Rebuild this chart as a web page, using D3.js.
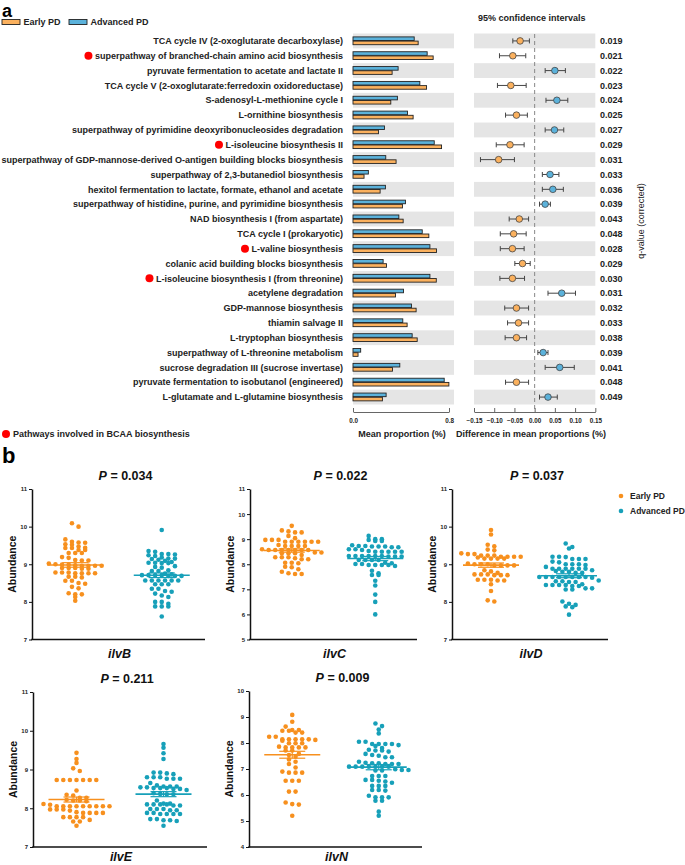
<!DOCTYPE html>
<html>
<head>
<meta charset="utf-8">
<script src="https://cdn.jsdelivr.net/npm/d3@7"></script>
<style>
body { margin: 0; background: #fff; }
svg { font-family: "Liberation Sans", Arial, sans-serif; }
</style>
</head>
<body>
<svg id="chart" width="685" height="865"></svg>
<script>
// ---- panel a data ----
const pathways = [
    "TCA cycle IV (2-oxoglutarate decarboxylase)",
    "superpathway of branched-chain amino acid biosynthesis",
    "pyruvate fermentation to acetate and lactate II",
    "TCA cycle V (2-oxoglutarate:ferredoxin oxidoreductase)",
    "S-adenosyl-L-methionine cycle I",
    "L-ornithine biosynthesis",
    "superpathway of pyrimidine deoxyribonucleosides degradation",
    "L-isoleucine biosynthesis II",
    "superpathway of GDP-mannose-derived O-antigen building blocks biosynthesis",
    "superpathway of 2,3-butanediol biosynthesis",
    "hexitol fermentation to lactate, formate, ethanol and acetate",
    "superpathway of histidine, purine, and pyrimidine biosynthesis",
    "NAD biosynthesis I (from aspartate)",
    "TCA cycle I (prokaryotic)",
    "L-valine biosynthesis",
    "colanic acid building blocks biosynthesis",
    "L-isoleucine biosynthesis I (from threonine)",
    "acetylene degradation",
    "GDP-mannose biosynthesis",
    "thiamin salvage II",
    "L-tryptophan biosynthesis",
    "superpathway of L-threonine metabolism",
    "sucrose degradation III (sucrose invertase)",
    "pyruvate fermentation to isobutanol (engineered)",
    "L-glutamate and L-glutamine biosynthesis"
];
const bcaaRows = [1, 7, 14, 16];
const earlyProp = [0.543, 0.668, 0.326, 0.613, 0.315, 0.501, 0.212, 0.738, 0.359, 0.092, 0.226, 0.412, 0.418,
    0.632, 0.696, 0.279, 0.694, 0.354, 0.526, 0.451, 0.535, 0.042, 0.329, 0.799, 0.245];
const advancedProp = [0.510, 0.618, 0.376, 0.557, 0.370, 0.454, 0.262, 0.677, 0.273, 0.128, 0.270, 0.437, 0.382,
    0.577, 0.641, 0.251, 0.641, 0.421, 0.487, 0.415, 0.493, 0.064, 0.390, 0.760, 0.276];
const diffMean = [-0.036, -0.054, 0.050, -0.059, 0.055, -0.045, 0.049, -0.061, -0.089, 0.038, 0.045, 0.026, -0.038,
    -0.052, -0.055, -0.030, -0.055, 0.067, -0.045, -0.040, -0.045, 0.021, 0.062, -0.045, 0.033];
const diffLow = [-0.054, -0.087, 0.026, -0.092, 0.028, -0.072, 0.026, -0.095, -0.134, 0.019, 0.019, 0.012, -0.063,
    -0.085, -0.085, -0.049, -0.086, 0.033, -0.074, -0.067, -0.073, 0.008, 0.026, -0.072, 0.012];
const diffHigh = [-0.013, -0.022, 0.076, -0.021, 0.082, -0.018, 0.072, -0.026, -0.050, 0.060, 0.071, 0.039, -0.015,
    -0.021, -0.026, -0.011, -0.025, 0.101, -0.015, -0.015, -0.020, 0.033, 0.098, -0.015, 0.056];
const qValues = ["0.019", "0.021", "0.022", "0.023", "0.024", "0.025", "0.027", "0.029", "0.031", "0.033", "0.036",
    "0.039", "0.043", "0.048", "0.028", "0.029", "0.030", "0.031", "0.032", "0.033", "0.038", "0.039", "0.041",
    "0.048", "0.049"];
const barTicks = [0, 0.8];
const diffTicks = [-0.15, -0.10, -0.05, 0, 0.05, 0.10, 0.15];

// ---- panel b data ----
const genes = ["ilvB", "ilvC", "ilvD", "ilvE", "ilvN"];
const pValues = ["0.034", "0.022", "0.037", "0.211", "0.009"];
const ilvBEarly = [10.09, 10.0, 9.66, 9.6, 9.58, 9.52, 9.53, 9.57, 9.44, 9.43, 9.43, 9.47, 9.38, 9.38, 9.3, 9.3, 9.3,
    9.17, 9.19, 9.1, 9.11, 9.1, 8.97, 8.96, 8.96, 8.99, 9.02, 9.0, 8.96, 8.96, 8.99, 8.88, 8.88, 8.9, 8.9, 8.9, 8.76,
    8.78, 8.76, 8.76, 8.78, 8.78, 8.76, 8.67, 8.65, 8.67, 8.56, 8.56, 8.48, 8.5, 8.36, 8.4, 8.2, 8.2, 8.23, 8.13, 8.03];
const ilvBAdvanced = [9.91, 9.35, 9.33, 9.27, 9.26, 9.24, 9.27, 9.15, 9.14, 9.12, 9.15, 9.18, 9.22, 9.04, 9.03, 9.03,
    9.06, 9.04, 9.09, 8.93, 8.95, 8.91, 8.82, 8.84, 8.82, 8.71, 8.71, 8.75, 8.73, 8.71, 8.71, 8.69, 8.69, 8.69, 8.57,
    8.57, 8.57, 8.57, 8.57, 8.57, 8.47, 8.47, 8.47, 8.35, 8.35, 8.27, 8.29, 8.17, 8.13, 8.22, 8.0, 7.95, 7.88, 7.88,
    7.88, 8.0, 7.61];
const ilvCEarly = [9.53, 9.35, 9.27, 9.27, 9.31, 9.04, 8.97, 8.97, 8.97, 9.13, 8.9, 8.9, 8.9, 8.9, 8.9, 8.9, 8.73,
    8.73, 8.73, 8.73, 8.77, 8.57, 8.57, 8.57, 8.57, 8.57, 8.57, 8.57, 8.6, 8.37, 8.44, 8.44, 8.44, 8.47, 8.47, 8.24,
    8.2, 8.2, 8.28, 8.28, 8.28, 8.06, 8.06, 8.04, 7.9, 7.88, 7.8, 7.64, 7.61, 7.61, 7.7];
const ilvCAdvanced = [9.13, 8.97, 9.0, 9.0, 8.93, 8.93, 8.68, 8.71, 8.73, 8.76, 8.71, 8.71, 8.68, 8.73, 8.6, 8.5,
    8.5, 8.5, 8.5, 8.5, 8.57, 8.53, 8.6, 8.33, 8.33, 8.33, 8.33, 8.33, 8.33, 8.31, 8.31, 8.31, 8.17, 8.17, 8.17, 8.17,
    8.04, 7.97, 7.97, 7.97, 7.97, 7.93, 8.01, 8.01, 8.06, 7.74, 7.57, 7.57, 7.64, 7.34, 7.15, 6.79, 6.5, 6.0];
const ilvDEarly = [9.91, 9.79, 9.52, 9.48, 9.39, 9.37, 9.27, 9.23, 9.23, 9.23, 9.27, 9.29, 9.15, 9.15, 9.2, 9.18,
    9.2, 9.2, 9.2, 9.15, 9.15, 9.0, 9.0, 9.0, 8.97, 8.97, 8.97, 8.97, 9.02, 8.81, 8.84, 8.73, 8.73, 8.71, 8.71, 8.71,
    8.73, 8.77, 8.59, 8.59, 8.59, 8.57, 8.57, 8.47, 8.29, 8.01, 8.04];
const ilvDAdvanced = [9.55, 9.46, 9.42, 9.2, 9.14, 9.14, 9.2, 9.14, 9.19, 9.0, 9.05, 9.0, 9.07, 9.0, 8.98, 8.84,
    8.88, 8.88, 8.88, 8.88, 8.88, 8.88, 8.93, 8.8, 8.77, 8.77, 8.82, 8.8, 8.66, 8.66, 8.66, 8.66, 8.66, 8.66, 8.66,
    8.66, 8.64, 8.57, 8.53, 8.55, 8.55, 8.53, 8.45, 8.45, 8.45, 8.45, 8.42, 8.47, 8.42, 8.36, 8.33, 8.33, 8.36, 7.95,
    7.86, 7.92, 8.01, 7.88, 7.66];
const ilvEEarly = [9.43, 9.27, 9.17, 8.96, 9.03, 8.73, 8.73, 8.73, 8.73, 8.73, 8.73, 8.73, 8.46, 8.27, 8.27, 8.35,
    8.33, 8.2, 8.2, 8.18, 8.22, 8.11, 8.09, 8.05, 8.05, 8.05, 8.05, 8.05, 8.05, 8.05, 8.05, 8.05, 7.88, 7.88, 7.88,
    7.88, 7.97, 7.97, 7.97, 7.94, 7.9, 7.77, 7.77, 7.77, 7.77, 7.66, 7.66, 7.7, 7.55];
const ilvEAdvanced = [9.56, 9.66, 9.42, 9.27, 8.92, 8.9, 8.88, 8.92, 8.8, 8.8, 8.76, 8.76, 8.76, 8.8, 8.65, 8.59,
    8.56, 8.56, 8.56, 8.5, 8.52, 8.52, 8.52, 8.54, 8.54, 8.47, 8.5, 8.39, 8.37, 8.36, 8.36, 8.2, 8.1, 8.1, 8.1, 8.12,
    8.07, 8.07, 8.1, 8.12, 7.98, 7.98, 7.98, 7.95, 7.95, 7.88, 7.85, 7.85, 7.88, 7.85, 7.85, 7.69, 7.67, 7.69, 7.72,
    7.72, 7.55];
const ilvNEarly = [9.08, 8.82, 8.63, 8.5, 8.47, 8.47, 8.5, 8.4, 8.4, 8.24, 8.14, 8.14, 8.14, 8.14, 8.14, 8.24, 8.12,
    8.09, 7.99, 7.99, 7.99, 7.83, 7.83, 7.83, 7.83, 7.86, 7.71, 7.71, 7.54, 7.58, 7.47, 7.37, 7.28, 7.19, 7.06, 6.86,
    6.86, 6.86, 6.9, 6.55, 6.55, 6.55, 6.13, 6.13, 5.65, 5.63, 5.71, 5.2];
const ilvNAdvanced = [8.75, 8.65, 8.52, 8.37, 8.05, 7.96, 7.96, 7.96, 7.96, 8.05, 7.88, 7.92, 7.74, 7.71, 7.71, 7.81,
    7.58, 7.67, 7.51, 7.45, 7.45, 7.54, 7.28, 7.22, 7.22, 7.19, 7.19, 7.19, 7.24, 7.09, 7.09, 7.09, 7.09, 7.09, 7.09,
    7.09, 6.99, 6.96, 6.94, 6.96, 6.94, 6.73, 6.73, 6.73, 6.55, 6.47, 6.58, 6.58, 6.52, 6.35, 6.35, 6.35, 6.19, 6.17,
    6.19, 5.91, 5.91, 5.97, 5.78, 5.78, 5.91, 5.36, 5.2];
const geneEarly = [ilvBEarly, ilvCEarly, ilvDEarly, ilvEEarly, ilvNEarly];
const geneAdvanced = [ilvBAdvanced, ilvCAdvanced, ilvDAdvanced, ilvEAdvanced, ilvNAdvanced];
const geneDomains = [[7, 11], [5, 11], [7, 11], [7, 11], [4, 10]];

// ---- styling / layout ----
let svg = d3.select("#chart");
let barOrange = "#fbb15e";
let barBlue = "#5bb2db";
let dotOrange = "#f7901e";
let dotBlue = "#17a0b9";
let stripe = "#e5e5e5";

// plot frames for panel b (layout only)
let frames = [
    { x0: 32, x1: 205, top: 489, bottom: 639.5 },
    { x0: 250, x1: 417, top: 489, bottom: 639.5 },
    { x0: 452, x1: 608, top: 489, bottom: 639.5 },
    { x0: 33, x1: 207, top: 692, bottom: 847 },
    { x0: 249, x1: 422, top: 691, bottom: 847 }
];

function drawPanelA() {
    let rowY = d3.scaleBand().domain(d3.range(pathways.length)).range([33.5, 404.5]);
    let h = rowY.bandwidth();
    let barX = d3.scaleLinear().domain([0, 0.8]).range([353, 449]);
    let diffX = d3.scaleLinear().domain([-0.15, 0.15]).range([474, 595.3]);

    svg.append("text").attr("x", 2).attr("y", 17).attr("font-size", 18).attr("font-weight", "bold").text("a");

    // legend
    let leg = [["Early PD", barOrange, 2], ["Advanced PD", barBlue, 69]];
    leg.forEach(l => {
        svg.append("rect").attr("x", l[2]).attr("y", 19.5).attr("width", 18).attr("height", 5)
            .attr("fill", l[1]).attr("stroke", "#222").attr("stroke-width", 0.9);
        svg.append("text").attr("x", l[2] + 21.5).attr("y", 25).attr("font-size", 9).attr("font-weight", "bold")
            .attr("fill", "#222").text(l[0]);
    });

    // stripes
    let even = d3.range(pathways.length).filter(i => i % 2 == 0);
    svg.selectAll(".stripeBar").data(even).enter().append("rect")
        .attr("x", 353).attr("y", i => rowY(i)).attr("width", 101).attr("height", h).attr("fill", stripe);
    svg.selectAll(".stripeDiff").data(even).enter().append("rect")
        .attr("x", 474).attr("y", i => rowY(i)).attr("width", 121.3).attr("height", h).attr("fill", stripe);

    // labels
    let labels = svg.selectAll(".plabel").data(pathways).enter().append("text")
        .attr("x", 343).attr("y", (d, i) => rowY(i) + h / 2 + 3.2)
        .attr("text-anchor", "end").attr("font-size", 9).attr("font-weight", "bold").attr("fill", "#222")
        .text(d => d);
    labels.each(function(d, i) {
        if (bcaaRows.includes(i)) {
            let w = this.getComputedTextLength();
            svg.append("circle").attr("cx", 343 - w - 6.5).attr("cy", rowY(i) + h / 2).attr("r", 4).attr("fill", "#f00");
        }
    });

    // bars
    svg.selectAll(".barAdv").data(advancedProp).enter().append("rect")
        .attr("x", barX(0)).attr("y", (d, i) => rowY(i) + 3.4)
        .attr("width", d => barX(d) - barX(0)).attr("height", 3.6)
        .attr("fill", barBlue).attr("stroke", "#222").attr("stroke-width", 0.9);
    svg.selectAll(".barEarly").data(earlyProp).enter().append("rect")
        .attr("x", barX(0)).attr("y", (d, i) => rowY(i) + 7.6)
        .attr("width", d => barX(d) - barX(0)).attr("height", 3.6)
        .attr("fill", barOrange).attr("stroke", "#222").attr("stroke-width", 0.9);

    // zero line
    svg.append("line").attr("x1", diffX(0)).attr("x2", diffX(0)).attr("y1", 34).attr("y2", 410)
        .attr("stroke", "#888").attr("stroke-width", 1).attr("stroke-dasharray", "4,3");

    // CI
    let ci = svg.append("g").attr("stroke", "#444").attr("stroke-width", 1);
    diffMean.forEach((m, i) => {
        let cy = rowY(i) + h / 2;
        ci.append("line").attr("x1", diffX(diffLow[i])).attr("x2", diffX(diffHigh[i])).attr("y1", cy).attr("y2", cy);
        ci.append("line").attr("x1", diffX(diffLow[i])).attr("x2", diffX(diffLow[i])).attr("y1", cy - 2.5).attr("y2", cy + 2.5);
        ci.append("line").attr("x1", diffX(diffHigh[i])).attr("x2", diffX(diffHigh[i])).attr("y1", cy - 2.5).attr("y2", cy + 2.5);
        ci.append("circle").attr("cx", diffX(m)).attr("cy", cy).attr("r", 3.3)
            .attr("fill", m < 0 ? barOrange : barBlue).attr("stroke-width", 0.8);
    });

    // q-values
    svg.selectAll(".qv").data(qValues).enter().append("text")
        .attr("x", 600).attr("y", (d, i) => rowY(i) + h / 2 + 3.2)
        .attr("font-size", 9).attr("font-weight", "bold").attr("fill", "#222").text(d => d);

    svg.append("text").attr("x", 478).attr("y", 21).attr("font-size", 9).attr("font-weight", "bold")
        .attr("fill", "#222").text("95% confidence intervals");
    svg.append("text").attr("transform", "translate(644,221) rotate(-90)").attr("text-anchor", "middle")
        .attr("font-size", 9).attr("fill", "#222").text("q-value (corrected)");

    // axes
    let ax1 = svg.append("g").attr("transform", "translate(0,412)")
        .call(d3.axisBottom(barX).tickValues(barTicks).tickFormat(d3.format(".1f"))
            .tickSizeInner(-4).tickSizeOuter(0).tickPadding(7));
    let ax2 = svg.append("g").attr("transform", "translate(0,412)")
        .call(d3.axisBottom(diffX).tickValues(diffTicks).tickFormat(d3.format(".2f"))
            .tickSizeInner(-4).tickSizeOuter(0).tickPadding(7));
    [ax1, ax2].forEach(ax => {
        ax.select(".domain").attr("stroke", "#666");
        ax.selectAll(".tick line").attr("stroke", "#666");
        ax.selectAll("text").attr("font-size", 6.3).attr("font-weight", "bold").attr("fill", "#222")
            .attr("font-family", "Liberation Sans, Arial, sans-serif");
    });

    svg.append("text").attr("x", 402).attr("y", 437).attr("text-anchor", "middle").attr("font-size", 9)
        .attr("font-weight", "bold").attr("fill", "#222").text("Mean proportion (%)");
    svg.append("text").attr("x", 531).attr("y", 437).attr("text-anchor", "middle").attr("font-size", 9)
        .attr("font-weight", "bold").attr("fill", "#222").text("Difference in mean proportions (%)");

    svg.append("circle").attr("cx", 6).attr("cy", 434).attr("r", 4).attr("fill", "#f00");
    svg.append("text").attr("x", 13).attr("y", 437.2).attr("font-size", 9).attr("font-weight", "bold")
        .attr("fill", "#222").text("Pathways involved in BCAA biosynthesis");
}

// arrange dots in rows, like a scatter dot plot
function swarm(values, y, cx, step) {
    let sorted = values.slice().sort((a, b) => b - a);
    let rows = [];
    sorted.forEach(v => {
        let last = rows[rows.length - 1];
        if (last && Math.abs(y(last[0]) - y(v)) < 3.5) last.push(v);
        else rows.push([v]);
    });
    let dots = [];
    rows.forEach(row => {
        row.forEach((v, i) => dots.push({ value: v, x: cx + (i - (row.length - 1) / 2) * step }));
    });
    return dots;
}

function drawGene(k) {
    let f = frames[k];
    let y = d3.scaleLinear().domain(geneDomains[k]).range([f.bottom, f.top]);
    let x = d3.scaleBand().domain(["Early PD", "Advanced PD"]).range([f.x0, f.x1]).paddingOuter(0);
    let g = svg.append("g");

    let groups = [[geneEarly[k], dotOrange, "Early PD"], [geneAdvanced[k], dotBlue, "Advanced PD"]];
    groups.forEach(gr => {
        let cx = x(gr[2]) + x.bandwidth() / 2;
        let dots = swarm(gr[0], y, cx, 6.6);
        g.selectAll(null).data(dots).enter().append("circle")
            .attr("cx", d => d.x).attr("cy", d => y(d.value)).attr("r", 2.3).attr("fill", gr[1]);
        let mean = d3.mean(gr[0]);
        let sem = d3.deviation(gr[0]) / Math.sqrt(gr[0].length);
        g.append("line").attr("x1", cx - 28).attr("x2", cx + 28).attr("y1", y(mean)).attr("y2", y(mean))
            .attr("stroke", gr[1]).attr("stroke-width", 1.6);
        [mean - sem, mean + sem].forEach(s => {
            g.append("line").attr("x1", cx - 13).attr("x2", cx + 13).attr("y1", y(s)).attr("y2", y(s))
                .attr("stroke", gr[1]).attr("stroke-width", 1.2);
        });
        g.append("line").attr("x1", cx).attr("x2", cx).attr("y1", y(mean - sem)).attr("y2", y(mean + sem))
            .attr("stroke", gr[1]).attr("stroke-width", 1.2);
    });

    // axes
    let ticks = d3.range(geneDomains[k][0], geneDomains[k][1] + 1);
    let ya = g.append("g").attr("transform", "translate(" + f.x0 + ",0)")
        .call(d3.axisLeft(y).tickValues(ticks).tickFormat(d3.format("d")).tickSizeInner(3).tickSizeOuter(0).tickPadding(2));
    ya.select(".domain").attr("stroke", "#111").attr("stroke-width", 1.5);
    ya.selectAll(".tick line").attr("stroke", "#111");
    ya.selectAll("text").attr("font-size", 6).attr("font-weight", "bold").attr("fill", "#222")
        .attr("font-family", "Liberation Sans, Arial, sans-serif");
    g.append("line").attr("x1", f.x0 - 0.75).attr("x2", f.x1).attr("y1", f.bottom).attr("y2", f.bottom)
        .attr("stroke", "#111").attr("stroke-width", 1.5);

    let mid = (f.x0 + f.x1) / 2;
    let title = g.append("text").attr("x", mid + 7).attr("y", f.top - 9).attr("text-anchor", "middle")
        .attr("font-size", 12.5).attr("font-weight", "bold").attr("fill", "#111");
    title.append("tspan").attr("font-style", "italic").text("P");
    title.append("tspan").text(" = " + pValues[k]);

    g.append("text").attr("x", mid + 1).attr("y", Math.min(f.bottom + 18, 860.5)).attr("text-anchor", "middle")
        .attr("font-size", 12.5).attr("font-weight", "bold").attr("font-style", "italic").attr("fill", "#111")
        .text(genes[k]);

    g.append("text").attr("transform", "translate(" + (f.x0 - 16) + "," + ((f.top + f.bottom) / 2) + ") rotate(-90)")
        .attr("text-anchor", "middle").attr("font-size", 10.5).attr("font-weight", "bold").attr("fill", "#111")
        .text("Abundance");
}

function drawPanelB() {
    svg.append("text").attr("x", 2).attr("y", 463).attr("font-size", 22).attr("font-weight", "bold").text("b");
    for (let k = 0; k < genes.length; k++) {
        drawGene(k);
    }
    let leg = [["Early PD", dotOrange, 496], ["Advanced PD", dotBlue, 511]];
    leg.forEach(l => {
        svg.append("circle").attr("cx", 621).attr("cy", l[2]).attr("r", 2.3).attr("fill", l[1]);
        svg.append("text").attr("x", 630).attr("y", l[2] + 3).attr("font-size", 8.5).attr("font-weight", "bold")
            .attr("fill", "#222").text(l[0]);
    });
}

drawPanelA();
drawPanelB();
</script>
</body>
</html>
